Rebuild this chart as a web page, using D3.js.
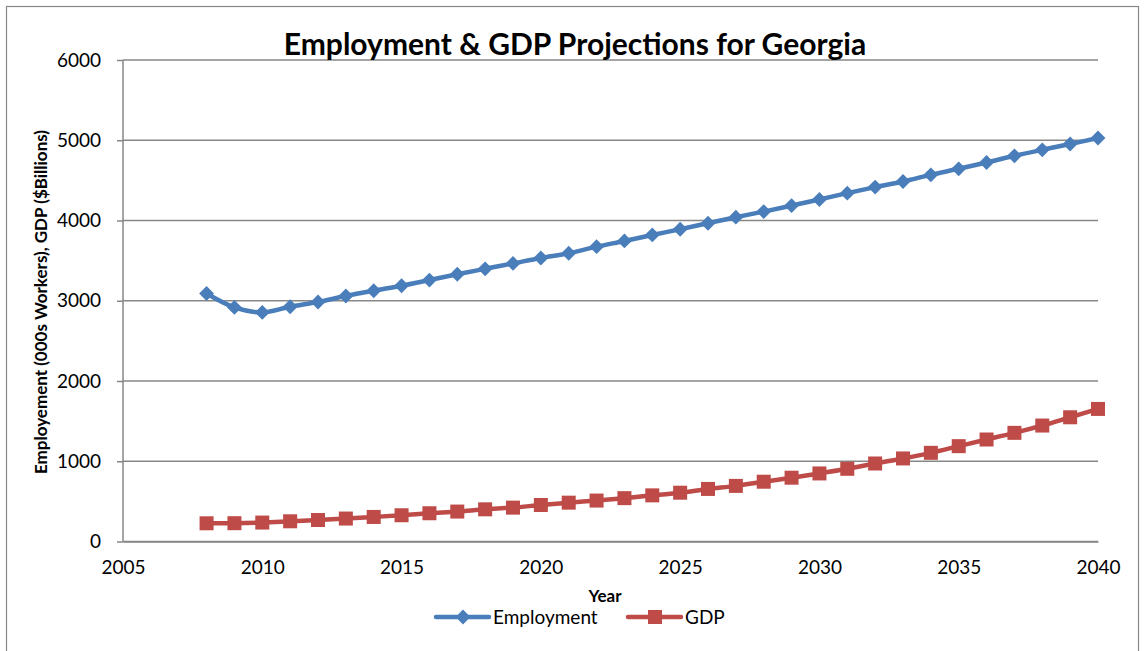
<!DOCTYPE html>
<html><head><meta charset="utf-8">
<script src="https://cdn.jsdelivr.net/npm/d3@7"></script>
<style>body{margin:0;background:#fff}svg{display:block}text{font-family:Lato,"Open Sans",sans-serif}</style>
</head><body><div id="chart"></div>
<script>
const years = d3.range(2008, 2041);
const employment = [3090,2917,2855,2925,2984,3059,3125,3187,3258,3330,3398,3465,3533,3592,3674,3745,3820,3891,3966,4041,4111,4186,4262,4341,4416,4486,4569,4644,4723,4806,4881,4953,5028];
const gdp = [227,228,236,252,268,286,306,327,352,373,401,422,455,484,510,540,575,608,655,693,745,795,848,906,972,1035,1105,1188,1271,1354,1445,1548,1652];
const xTicks = [2005,2010,2015,2020,2025,2030,2035,2040];
const yTicks = [0,1000,2000,3000,4000,5000,6000];
const seriesNames = ["Employment","GDP"];
const colors = ["#4a7ebb","#be4b48"];

const W = 1144, H = 651;
const svg = d3.select("#chart").append("svg").attr("width", W).attr("height", H);
svg.append("rect").attr("x",6.5).attr("y",6.5).attr("width",1132).attr("height",660).attr("fill","#fff").attr("stroke","#888").attr("stroke-width",1.2);

const x = d3.scaleLinear().domain([2005,2040]).range([123,1098]);
const y = d3.scaleLinear().domain([0,6000]).range([541.5,60]);

// gridlines
svg.append("g").selectAll("line").data(yTicks).join("line")
  .attr("x1",x(2005)).attr("x2",x(2040)).attr("y1",d=>y(d)).attr("y2",d=>y(d))
  .attr("stroke","#878787").attr("stroke-width",1.5);

// y axis
const ya = svg.append("g").attr("transform",`translate(${x(2005)},0)`)
  .call(d3.axisLeft(y).tickValues(yTicks).tickSize(6).tickPadding(16).tickFormat(d3.format("d")));
ya.select(".domain").attr("stroke","#878787").attr("stroke-width",1.5).attr("d",`M-0,${y(6000)}V${y(0)}`);
ya.selectAll(".tick line").attr("stroke","#878787").attr("stroke-width",1.5);
ya.selectAll(".tick text").attr("font-size",19).attr("fill","#000").attr("font-family","Lato");

// x axis
const xa = svg.append("g").attr("transform",`translate(0,${y(0)})`)
  .call(d3.axisBottom(x).tickValues(xTicks).tickSize(0).tickPadding(19).tickFormat(d3.format("d")));
xa.select(".domain").attr("stroke","#878787").attr("stroke-width",1.5);
xa.selectAll(".tick text").attr("font-size",19).attr("fill","#000").attr("font-family","Lato");

// titles
svg.append("text").attr("x",575).attr("y",55).attr("text-anchor","middle")
  .attr("font-size",30).attr("font-weight","bold").text("Employment & GDP Projections for Georgia");
svg.append("text").attr("x",605).attr("y",602).attr("text-anchor","middle")
  .attr("font-size",17).attr("font-weight","bold").text("Year");
svg.append("text").attr("transform","translate(47,302) rotate(-90)").attr("text-anchor","middle")
  .attr("font-size",17).attr("font-weight","bold").text("Employement (000s Workers), GDP ($Billions)");

const line = d3.line().x((d,i)=>x(years[i])).y(d=>y(d)).curve(d3.curveCatmullRom.alpha(0.5));
const data = [employment, gdp];
data.forEach((s,k)=>{
  svg.append("path").datum(s).attr("d",line).attr("fill","none")
    .attr("stroke",colors[k]).attr("stroke-width",4.5).attr("stroke-linejoin","round");
});
// markers
const diamond = d3.symbol().type(d3.symbolDiamond2).size(140);
svg.append("g").selectAll("path").data(employment).join("path")
  .attr("transform",(d,i)=>`translate(${x(years[i])},${y(d)})`).attr("d",diamond).attr("fill",colors[0]);
svg.append("g").selectAll("rect").data(gdp).join("rect")
  .attr("x",(d,i)=>x(years[i])-7).attr("y",d=>y(d)-7).attr("width",14).attr("height",14).attr("fill",colors[1]);

// legend
const leg = [{x:436,name:seriesNames[0]},{x:628,name:seriesNames[1]}];
leg.forEach((l,k)=>{
  const g = svg.append("g");
  g.append("line").attr("x1",l.x).attr("x2",l.x+53).attr("y1",617).attr("y2",617)
    .attr("stroke",colors[k]).attr("stroke-width",4.5).attr("stroke-linecap","round");
  if(k===0) g.append("path").attr("transform",`translate(${l.x+27},617)`).attr("d",diamond).attr("fill",colors[0]);
  else g.append("rect").attr("x",l.x+20).attr("y",610).attr("width",14).attr("height",14).attr("fill",colors[1]);
  g.append("text").attr("x",l.x+57).attr("y",624).attr("font-size",19).text(l.name);
});
</script></body></html>
